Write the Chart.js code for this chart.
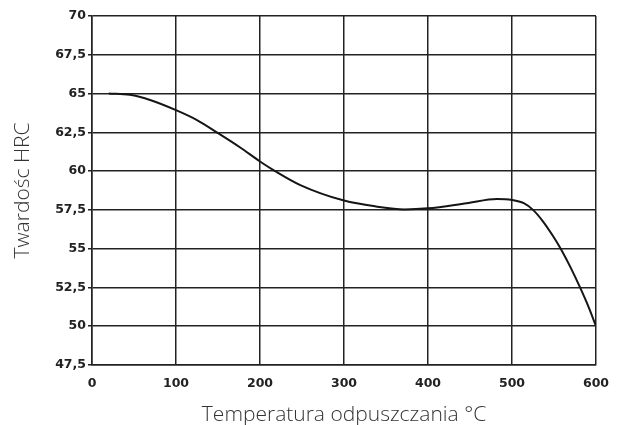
<!DOCTYPE html>
<html>
<head>
<meta charset="utf-8">
<script src="https://cdn.jsdelivr.net/npm/chart.js@4/dist/chart.umd.min.js"></script>
<style>
    html, body { margin: 0; padding: 0; background: #fff; }
    #wrap { width: 626px; height: 425px; }
</style>
</head>
<body>
<div id="wrap"><canvas id="hrcChart"></canvas></div>
<script>
// temperatura odpuszczania (°C) i twardość (HRC)
const temps    = [20, 45, 70, 100, 125, 150, 176, 200, 218, 248, 300, 338, 372, 400, 446, 482, 500, 514, 525, 537, 549, 559, 570, 581, 591, 600];
const hardness = [65.0, 64.92, 64.57, 63.93, 63.29, 62.45, 61.54, 60.62, 60.0, 59.1, 58.1, 57.72, 57.53, 57.6, 57.93, 58.2, 58.14, 57.93, 57.5, 56.75, 55.8, 54.9, 53.76, 52.5, 51.26, 50.0];

const xTitle = 'Temperatura odpuszczania °C';
const yTitle = 'Twardośc HRC';

const gridColor = '#222';
const tickFont = { family: 'DejaVu Sans', size: 12.5, weight: 'bold' };

const points = temps.map((t, i) => ({ x: t, y: hardness[i] }));

new Chart(document.getElementById('hrcChart'), {
    type: 'line',
    data: {
        datasets: [{
            data: points,
            borderColor: '#151515',
            borderWidth: 2,
            pointRadius: 0,
            fill: false,
            cubicInterpolationMode: 'monotone'
        }]
    },
    options: {
        responsive: true,
        maintainAspectRatio: false,
        animation: false,
        layout: { padding: { top: 16, right: 30, left: 0, bottom: 0 } },
        plugins: {
            legend: { display: false },
            tooltip: { enabled: false }
        },
        scales: {
            x: {
                type: 'linear',
                min: 0,
                max: 600,
                ticks: { stepSize: 100, padding: 11, color: '#222', font: tickFont },
                grid: { color: gridColor, lineWidth: 1.5, drawTicks: false },
                border: { color: gridColor, width: 1.5 },
                title: {
                    display: true,
                    text: xTitle,
                    color: '#333',
                    font: { family: 'Open Sans', size: 21, weight: 300, lineHeight: 0.95 },
                    padding: { top: 0, bottom: 0 }
                },
                afterFit: (scale) => { scale.height = 60; }
            },
            y: {
                min: 47.5,
                max: 70,
                ticks: {
                    stepSize: 2.5,
                    padding: 2,
                    color: '#222',
                    font: tickFont,
                    callback: (v) => String(v).replace('.', ',')
                },
                grid: { color: gridColor, lineWidth: 1.5, tickLength: 4 },
                border: { color: gridColor, width: 1.5 },
                title: {
                    display: true,
                    text: yTitle,
                    color: '#333',
                    font: { family: 'Open Sans', size: 21, weight: 300, lineHeight: 1.05 },
                    padding: { top: 12, bottom: 0 }
                },
                afterFit: (scale) => { scale.width = 92; }
            }
        }
    }
});
</script>
</body>
</html>
